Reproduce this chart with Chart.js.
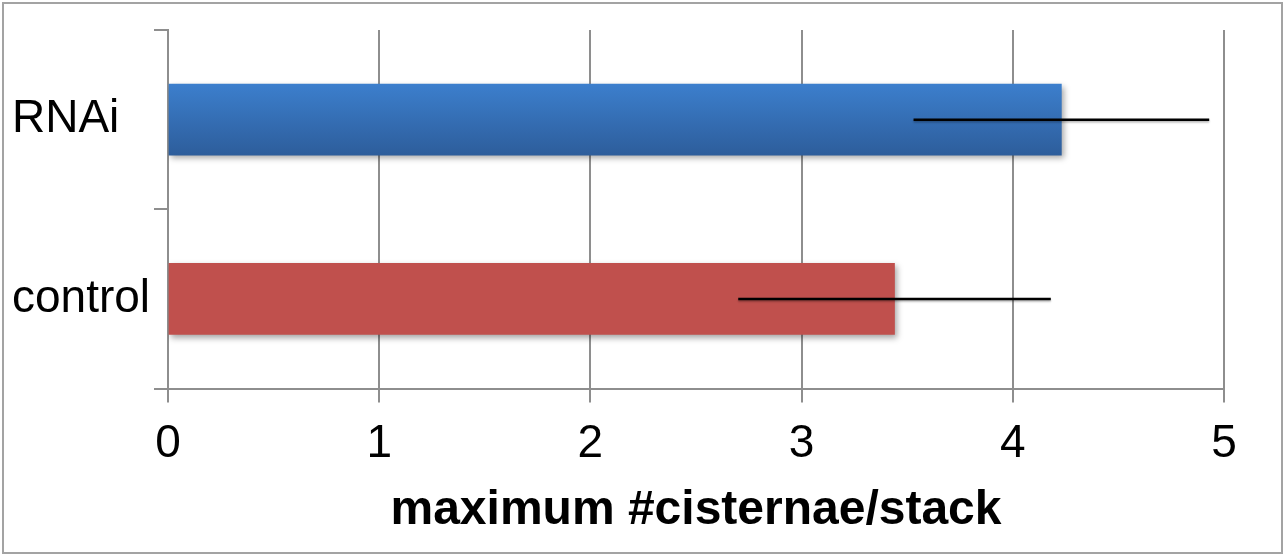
<!DOCTYPE html>
<html>
<head>
<meta charset="utf-8">
<script src="https://cdn.jsdelivr.net/npm/chart.js@4.4.0/dist/chart.umd.min.js"></script>
<style>
  html, body { margin: 0; padding: 0; background: #fff; }
  #wrap { position: relative; width: 1285px; height: 554px; }
  #frame {
    position: absolute; left: 2px; top: 2px; width: 1277px; height: 548px;
    border: 2px solid #a3a3a3; pointer-events: none;
  }
  canvas { position: absolute; left: 0; top: 0; }
</style>
</head>
<body>
<div id="wrap">
  <canvas id="chart" width="1285" height="554"></canvas>
  <div id="frame"></div>
</div>
<script>
// dados
const groups = ["RNAi", "control"]
const maxCisternae = [4.23, 3.44]
const errors = [0.70, 0.74]
const xTicks = [0, 1, 2, 3, 4, 5]

// cores das barras (topo, base do degradê)
const barColors = [
  ["#3c7fcd", "#2d5d9b"],
  ["#c0504d", "#c0504d"],
]
const gridColor = "#8e8e8e"

Chart.defaults.font.family = "'Liberation Sans', Arial, sans-serif"
Chart.defaults.color = "#000"

// sombra das barras
const shadowPlugin = {
  id: "barShadow",
  beforeDatasetsDraw(chart) {
    const ctx = chart.ctx
    ctx.save()
    ctx.shadowColor = "rgba(0,0,0,0.35)"
    ctx.shadowBlur = 6
    ctx.shadowOffsetX = 2
    ctx.shadowOffsetY = 3
  },
  afterDatasetsDraw(chart) {
    chart.ctx.restore()
  },
}

// barras de erro (sem tampas)
const errorBarPlugin = {
  id: "errorBars",
  afterDatasetsDraw(chart) {
    const ctx = chart.ctx
    const x = chart.scales.x
    const y = chart.scales.y
    ctx.save()
    ctx.strokeStyle = "#000"
    ctx.lineWidth = 2.5
    ctx.shadowColor = "rgba(0,0,0,0.3)"
    ctx.shadowBlur = 2
    ctx.shadowOffsetY = 1.5
    maxCisternae.forEach((v, i) => {
      const yc = y.getPixelForValue(i)
      ctx.beginPath()
      ctx.moveTo(x.getPixelForValue(v - errors[i]), yc)
      ctx.lineTo(x.getPixelForValue(v + errors[i]), yc)
      ctx.stroke()
    })
    ctx.restore()
  },
}

function barFill(c) {
  const cols = barColors[c.dataIndex]
  const chart = c.chart
  if (!chart.chartArea) return cols[0]
  const yc = chart.scales.y.getPixelForValue(c.dataIndex)
  const g = chart.ctx.createLinearGradient(0, yc - 36, 0, yc + 36)
  g.addColorStop(0, cols[0])
  g.addColorStop(1, cols[1])
  return g
}

document.addEventListener("DOMContentLoaded", () => {
  const ctx = document.getElementById("chart").getContext("2d")

  new Chart(ctx, {
    type: "bar",
    data: {
      labels: groups,
      datasets: [
        {
          data: maxCisternae,
          backgroundColor: barFill,
          borderWidth: 0,
          barThickness: 71,
        },
      ],
    },
    options: {
      indexAxis: "y",
      responsive: false,
      animation: false,
      layout: { padding: { left: 12, right: 61, top: 30, bottom: 19 } },
      plugins: {
        legend: { display: false },
        tooltip: { enabled: false },
      },
      scales: {
        x: {
          min: xTicks[0],
          max: xTicks[xTicks.length - 1],
          afterBuildTicks: (s) => { s.ticks = xTicks.map((v) => ({ value: v })) },
          grid: { color: gridColor, lineWidth: 2, tickLength: 14 },
          border: { color: gridColor, width: 2 },
          ticks: { font: { size: 46 }, padding: 14, color: "#000" },
          title: {
            display: true,
            text: "maximum #cisternae/stack",
            font: { size: 48, weight: "bold", lineHeight: 1.025 },
            color: "#000",
            padding: { top: 0, bottom: 0 },
          },
        },
        y: {
          afterFit: (s) => {
            s.width = 156
            s.paddingTop = 0
            s.paddingBottom = 0
          },
          grid: {
            offset: true,
            drawOnChartArea: false,
            color: gridColor,
            lineWidth: 2,
            tickLength: 14,
          },
          border: { color: gridColor, width: 2 },
          ticks: { font: { size: 46 }, padding: 8, crossAlign: "far", color: "#000" },
        },
      },
    },
    plugins: [shadowPlugin, errorBarPlugin],
  })
})
</script>
</body>
</html>
